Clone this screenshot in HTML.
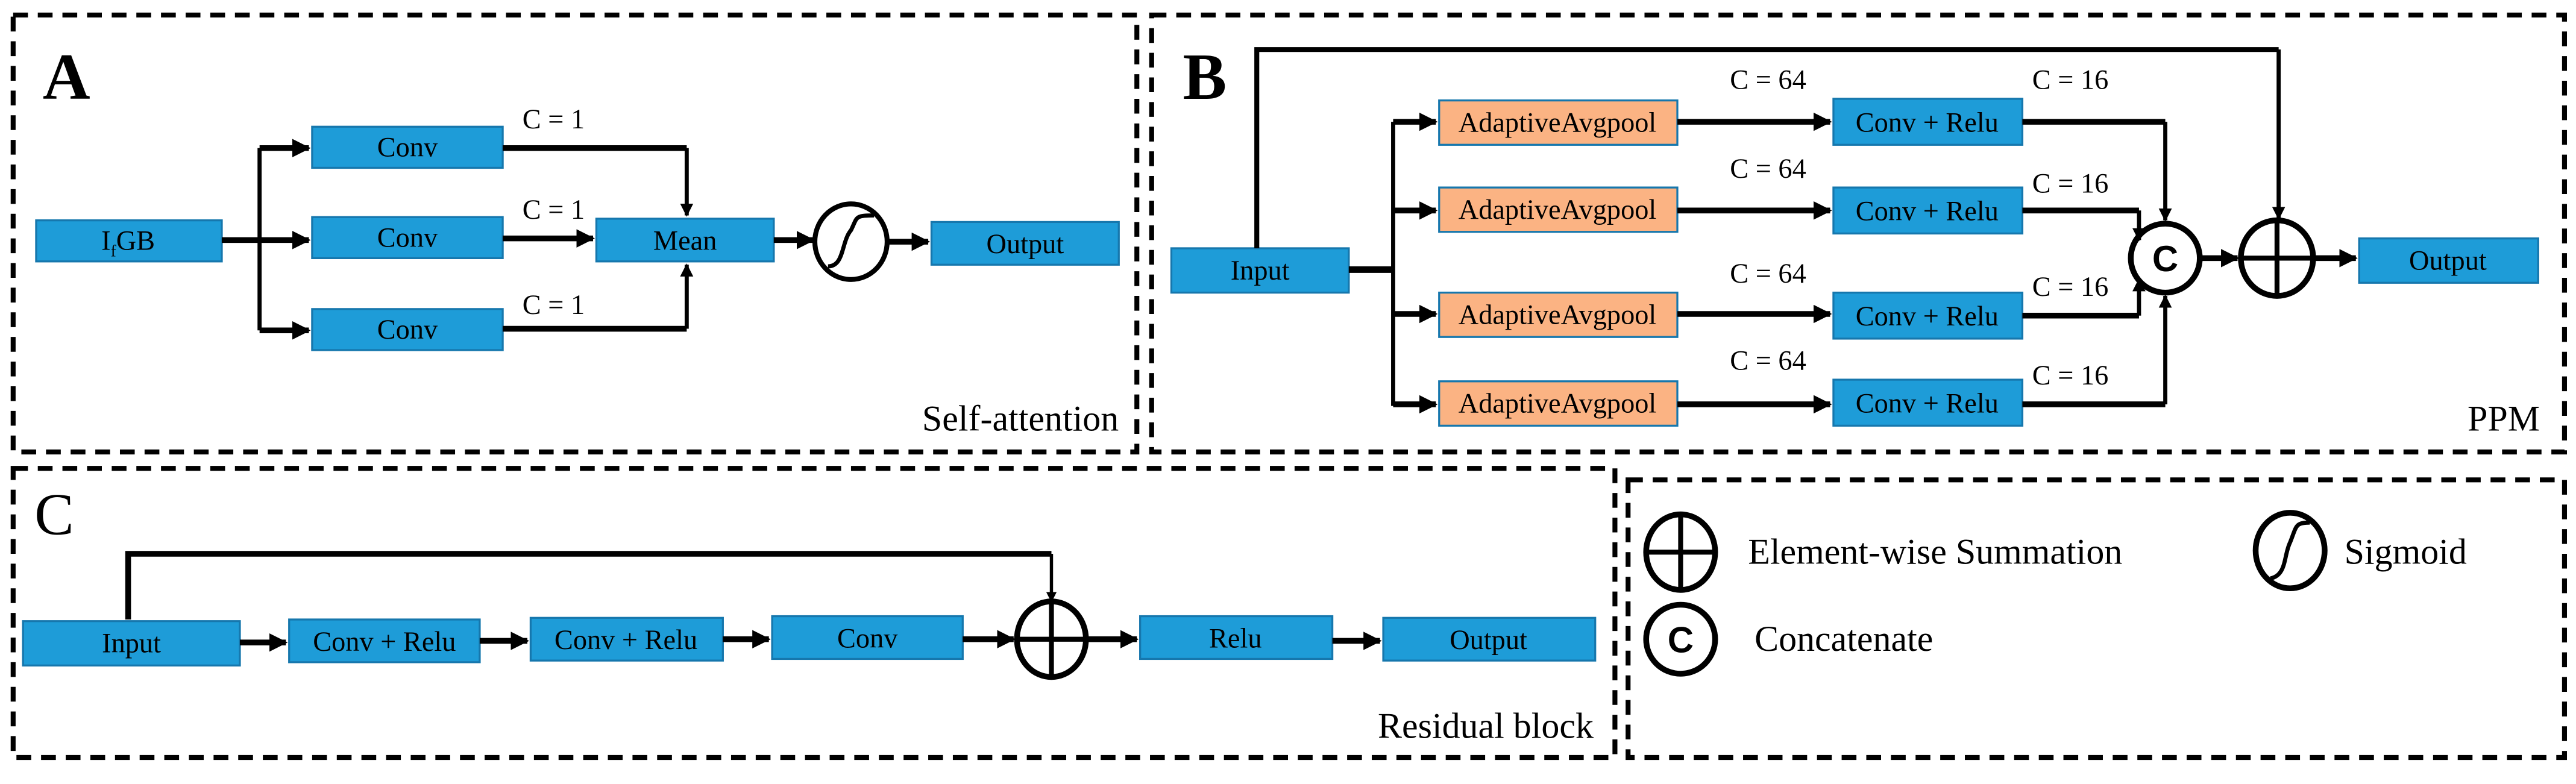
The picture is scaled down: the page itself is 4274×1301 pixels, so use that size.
<!DOCTYPE html>
<html><head><meta charset="utf-8"><style>
html,body{margin:0;padding:0;background:#fff;}
svg{display:block;}
</style></head><body>
<svg width="4274" height="1301" viewBox="0 0 1568 477" xmlns="http://www.w3.org/2000/svg" font-family="'Liberation Serif', serif">
<defs>
<marker id="ah" viewBox="0 0 10 10" refX="9" refY="5" markerWidth="3.2" markerHeight="3.2" orient="auto" markerUnits="strokeWidth"><path d="M0,0L10,5L0,10z" fill="#000"/></marker>
</defs>
<g fill="none" stroke="#000" stroke-width="3" stroke-dasharray="9,6">
<rect x="8" y="9" width="684" height="266"/>
<rect x="701" y="9" width="860" height="266"/>
<rect x="8" y="285" width="975" height="176"/>
<rect x="991" y="292" width="570" height="169"/>
</g>
<g stroke="#1677ad" stroke-width="1.2">
<g fill="#1e9cd8">
<rect x="22" y="134" width="113" height="25"/>
<rect x="190" y="77" width="116" height="25"/>
<rect x="190" y="132" width="116" height="25"/>
<rect x="190" y="188" width="116" height="25"/>
<rect x="363" y="133" width="108" height="26"/>
<rect x="567" y="135" width="114" height="26"/>
<rect x="713" y="151" width="108" height="27"/>
<rect x="1116" y="60" width="115" height="28"/>
<rect x="1116" y="114" width="115" height="28"/>
<rect x="1116" y="178" width="115" height="28"/>
<rect x="1116" y="231" width="115" height="28"/>
<rect x="1436" y="145" width="109" height="27"/>
<rect x="14" y="378" width="132" height="27"/>
<rect x="176" y="377" width="116" height="26"/>
<rect x="323" y="376" width="117" height="26"/>
<rect x="470" y="375" width="116" height="26"/>
<rect x="694" y="375" width="117" height="26"/>
<rect x="842" y="376" width="129" height="26"/>
</g>
<g fill="#fbb383">
<rect x="876" y="61" width="145" height="27"/>
<rect x="876" y="114" width="145" height="27"/>
<rect x="876" y="178" width="145" height="27"/>
<rect x="876" y="232" width="145" height="27"/>
</g>
</g>
<g fill="none" stroke="#000">
<!-- A -->
<path d="M135 146H158" stroke-width="3.5"/>
<path d="M158 90V201" stroke-width="2.5"/>
<path d="M158 90H188" stroke-width="3.5" marker-end="url(#ah)"/>
<path d="M158 146H188" stroke-width="3.5" marker-end="url(#ah)"/>
<path d="M158 201H188" stroke-width="3.5" marker-end="url(#ah)"/>
<path d="M306 90H418" stroke-width="3.5"/>
<path d="M418 90V131" stroke-width="2.5" marker-end="url(#ah)"/>
<path d="M306 200H418" stroke-width="3.5"/>
<path d="M418 200V161" stroke-width="2.5" marker-end="url(#ah)"/>
<path d="M306 145H361" stroke-width="3.5" marker-end="url(#ah)"/>
<path d="M471 146H495" stroke-width="3.5" marker-end="url(#ah)"/>
<path d="M541 147H565" stroke-width="3.5" marker-end="url(#ah)"/>
<ellipse cx="518" cy="147" rx="22" ry="23" stroke-width="3"/>
<path d="M504 162C514 162 512 147 518 140C522 132 520 131 532 131" stroke-width="2.5"/>
<!-- B -->
<path d="M765 151V30H1387" stroke-width="3"/>
<path d="M1387 30V133" stroke-width="2.5" marker-end="url(#ah)"/>
<path d="M821 164H848" stroke-width="4"/>
<path d="M848 74V247" stroke-width="2.5"/>
<path d="M848 74H874" stroke-width="3.5" marker-end="url(#ah)"/>
<path d="M848 128H874" stroke-width="3.5" marker-end="url(#ah)"/>
<path d="M848 191H874" stroke-width="3.5" marker-end="url(#ah)"/>
<path d="M848 246H874" stroke-width="3.5" marker-end="url(#ah)"/>
<path d="M1021 74H1114" stroke-width="3.5" marker-end="url(#ah)"/>
<path d="M1021 128H1114" stroke-width="3.5" marker-end="url(#ah)"/>
<path d="M1021 191H1114" stroke-width="3.5" marker-end="url(#ah)"/>
<path d="M1021 246H1114" stroke-width="3.5" marker-end="url(#ah)"/>
<path d="M1231 74H1318" stroke-width="3.5"/>
<path d="M1318 74V134" stroke-width="2.5" marker-end="url(#ah)"/>
<path d="M1231 128H1302" stroke-width="3.5"/>
<path d="M1302 128V146" stroke-width="2.5" marker-end="url(#ah)"/>
<path d="M1231 192H1302" stroke-width="3.5"/>
<path d="M1302 192V170" stroke-width="2.5" marker-end="url(#ah)"/>
<path d="M1231 246H1318" stroke-width="3.5"/>
<path d="M1318 246V180" stroke-width="2.5" marker-end="url(#ah)"/>
<circle cx="1318" cy="157" r="21" stroke-width="3.5"/>
<path d="M1339 157H1362" stroke-width="3.5" marker-end="url(#ah)"/>
<ellipse cx="1386" cy="157" rx="22" ry="23" stroke-width="3.5"/>
<path d="M1364 157H1408M1386 134V180" stroke-width="3"/>
<path d="M1408 157H1434" stroke-width="3.5" marker-end="url(#ah)"/>
<!-- C -->
<path d="M78 377V337H640" stroke-width="3.5"/>
<path d="M640 337V366" stroke-width="2" marker-end="url(#ah)"/>
<path d="M146 391H174" stroke-width="3.5" marker-end="url(#ah)"/>
<path d="M292 390H321" stroke-width="3.5" marker-end="url(#ah)"/>
<path d="M440 389H468" stroke-width="3.5" marker-end="url(#ah)"/>
<path d="M586 389H617" stroke-width="3.5" marker-end="url(#ah)"/>
<path d="M662 389H692" stroke-width="3.5" marker-end="url(#ah)"/>
<path d="M811 390H840" stroke-width="3.5" marker-end="url(#ah)"/>
<ellipse cx="640" cy="389" rx="21" ry="23" stroke-width="3.5"/>
<path d="M619 389H661M640 366V412" stroke-width="3"/>
<!-- legend -->
<ellipse cx="1023" cy="336" rx="21" ry="23" stroke-width="3.5"/>
<path d="M1002 336H1044M1023 313V359" stroke-width="3"/>
<ellipse cx="1394" cy="335" rx="21" ry="23" stroke-width="3.5"/>
<path d="M1382 352C1392 350 1390 338 1394 330C1398 320 1397 318 1406 318" stroke-width="2.5"/>
<circle cx="1023" cy="389" r="21" stroke-width="3.5"/>
</g>
<g font-size="17" text-anchor="middle" font-family="'Liberation Serif', serif" fill="#000">
<text x="78" y="152">I<tspan font-size="10" dy="4">f</tspan><tspan dy="-4">GB</tspan></text>
<text x="248" y="95">Conv</text>
<text x="248" y="150">Conv</text>
<text x="248" y="206">Conv</text>
<text x="417" y="152">Mean</text>
<text x="624" y="154">Output</text>
<text x="767" y="170">Input</text>
<text x="948" y="80">AdaptiveAvgpool</text>
<text x="948" y="133">AdaptiveAvgpool</text>
<text x="948" y="197">AdaptiveAvgpool</text>
<text x="948" y="251">AdaptiveAvgpool</text>
<text x="1173" y="80">Conv + Relu</text>
<text x="1173" y="134">Conv + Relu</text>
<text x="1173" y="198">Conv + Relu</text>
<text x="1173" y="251">Conv + Relu</text>
<text x="1490" y="164">Output</text>
<text x="80" y="397">Input</text>
<text x="234" y="396">Conv + Relu</text>
<text x="381" y="395">Conv + Relu</text>
<text x="528" y="394">Conv</text>
<text x="752" y="394">Relu</text>
<text x="906" y="395">Output</text>
</g>
<g font-size="17" font-family="'Liberation Serif', serif" fill="#000">
<text x="318" y="78">C = 1</text>
<text x="318" y="133">C = 1</text>
<text x="318" y="191">C = 1</text>
<text x="1053" y="54">C = 64</text>
<text x="1053" y="108">C = 64</text>
<text x="1053" y="172">C = 64</text>
<text x="1053" y="225">C = 64</text>
<text x="1237" y="54">C = 16</text>
<text x="1237" y="117">C = 16</text>
<text x="1237" y="180">C = 16</text>
<text x="1237" y="234">C = 16</text>
</g>
<g font-size="22" font-weight="bold" text-anchor="middle" font-family="'Liberation Sans', sans-serif" fill="#000">
<text x="1318" y="165">C</text>
<text x="1023" y="397">C</text>
</g>
<g font-size="22" font-family="'Liberation Serif', serif" fill="#000">
<text x="1064" y="343">Element-wise Summation</text>
<text x="1427" y="343">Sigmoid</text>
<text x="1068" y="396">Concatenate</text>
<text x="681" y="262" text-anchor="end">Self-attention</text>
<text x="1546" y="262" text-anchor="end">PPM</text>
<text x="970" y="449" text-anchor="end">Residual block</text>
</g>
<g font-size="40" font-weight="bold" font-family="'Liberation Serif', serif" fill="#000">
<text x="26" y="60">A</text>
<text x="720" y="60">B</text>
<text x="21" y="325" font-weight="normal" font-size="36">C</text>
</g>
</svg>
</body></html>
